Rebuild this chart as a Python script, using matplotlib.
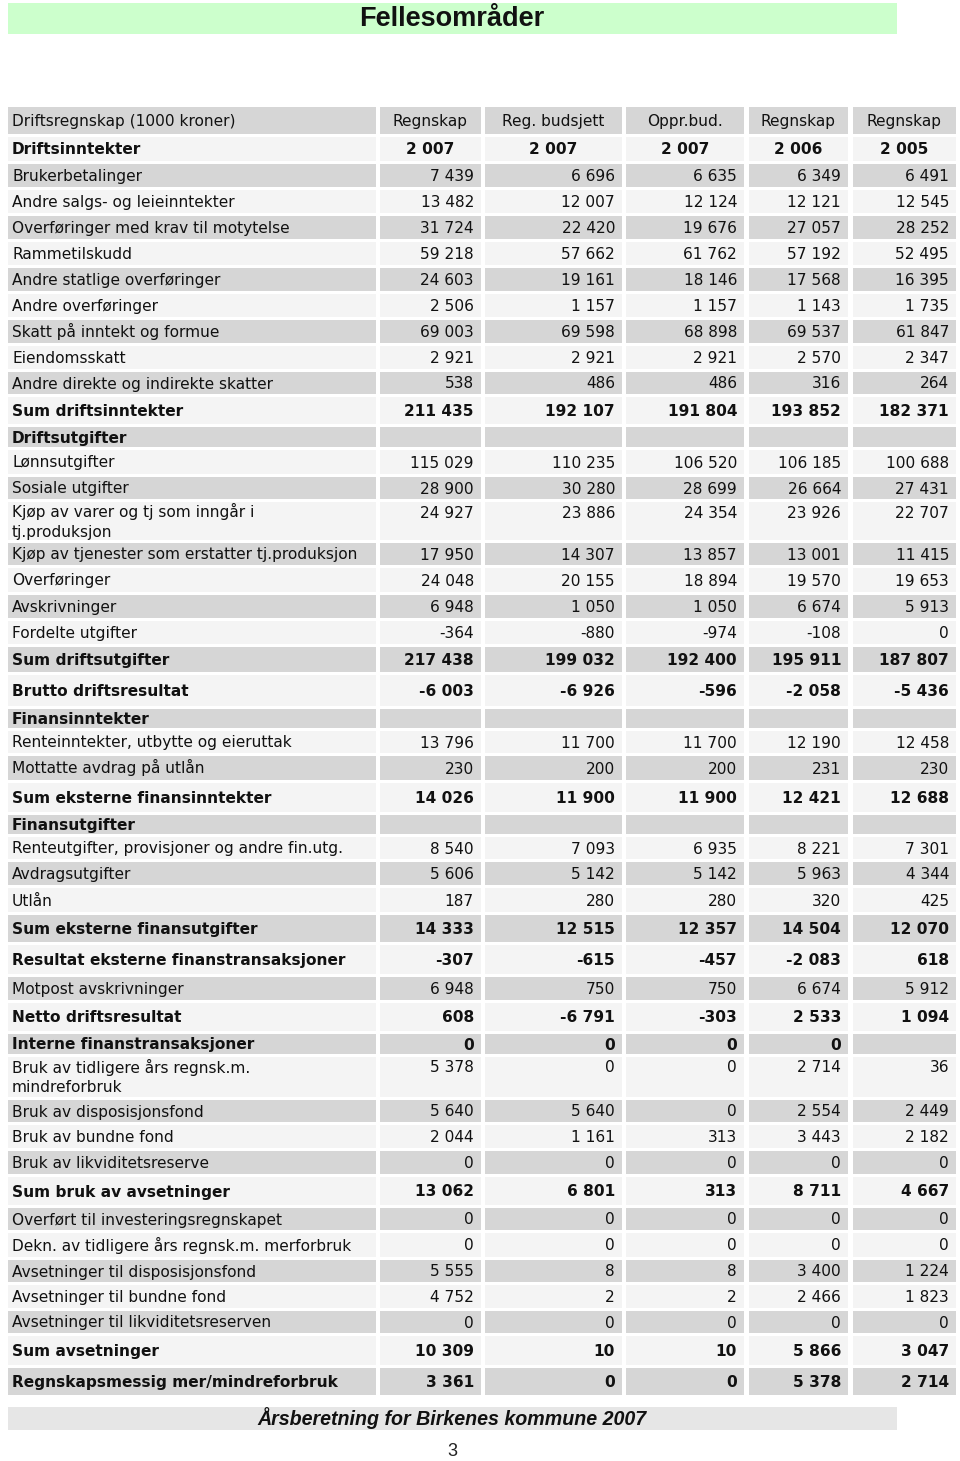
import matplotlib
matplotlib.use("Agg")
import matplotlib.pyplot as plt
from matplotlib.patches import Rectangle

# --- data -----------------------------------------------------------------
title = "Fellesområder"
footer = "Årsberetning for Birkenes kommune 2007"
page_no = "3"

header_label = "Driftsregnskap (1000 kroner)"
col_headers = ["Regnskap", "Reg. budsjett", "Oppr.bud.", "Regnskap", "Regnskap"]
years = [2007, 2007, 2007, 2006, 2005]

labels = [
    "Brukerbetalinger",
    "Andre salgs- og leieinntekter",
    "Overføringer med krav til motytelse",
    "Rammetilskudd",
    "Andre statlige overføringer",
    "Andre overføringer",
    "Skatt på inntekt og formue",
    "Eiendomsskatt",
    "Andre direkte og indirekte skatter",
    "Sum driftsinntekter",
    "Driftsutgifter",
    "Lønnsutgifter",
    "Sosiale utgifter",
    "Kjøp av varer og tj som inngår i\ntj.produksjon",
    "Kjøp av tjenester som erstatter tj.produksjon",
    "Overføringer",
    "Avskrivninger",
    "Fordelte utgifter",
    "Sum driftsutgifter",
    "Brutto driftsresultat",
    "Finansinntekter",
    "Renteinntekter, utbytte og eieruttak",
    "Mottatte avdrag på utlån",
    "Sum eksterne finansinntekter",
    "Finansutgifter",
    "Renteutgifter, provisjoner og andre fin.utg.",
    "Avdragsutgifter",
    "Utlån",
    "Sum eksterne finansutgifter",
    "Resultat eksterne finanstransaksjoner",
    "Motpost avskrivninger",
    "Netto driftsresultat",
    "Interne finanstransaksjoner",
    "Bruk av tidligere års regnsk.m.\nmindreforbruk",
    "Bruk av disposisjonsfond",
    "Bruk av bundne fond",
    "Bruk av likviditetsreserve",
    "Sum bruk av avsetninger",
    "Overført til investeringsregnskapet",
    "Dekn. av tidligere års regnsk.m. merforbruk",
    "Avsetninger til disposisjonsfond",
    "Avsetninger til bundne fond",
    "Avsetninger til likviditetsreserven",
    "Sum avsetninger",
    "Regnskapsmessig mer/mindreforbruk",
]

N = None
regnskap_2007 = [7439, 13482, 31724, 59218, 24603, 2506, 69003, 2921, 538, 211435,
                 N, 115029, 28900, 24927, 17950, 24048, 6948, -364, 217438, -6003,
                 N, 13796, 230, 14026, N, 8540, 5606, 187, 14333, -307,
                 6948, 608, 0, 5378, 5640, 2044, 0, 13062,
                 0, 0, 5555, 4752, 0, 10309, 3361]
reg_budsjett_2007 = [6696, 12007, 22420, 57662, 19161, 1157, 69598, 2921, 486, 192107,
                     N, 110235, 30280, 23886, 14307, 20155, 1050, -880, 199032, -6926,
                     N, 11700, 200, 11900, N, 7093, 5142, 280, 12515, -615,
                     750, -6791, 0, 0, 5640, 1161, 0, 6801,
                     0, 0, 8, 2, 0, 10, 0]
oppr_bud_2007 = [6635, 12124, 19676, 61762, 18146, 1157, 68898, 2921, 486, 191804,
                 N, 106520, 28699, 24354, 13857, 18894, 1050, -974, 192400, -596,
                 N, 11700, 200, 11900, N, 6935, 5142, 280, 12357, -457,
                 750, -303, 0, 0, 0, 313, 0, 313,
                 0, 0, 8, 2, 0, 10, 0]
regnskap_2006 = [6349, 12121, 27057, 57192, 17568, 1143, 69537, 2570, 316, 193852,
                 N, 106185, 26664, 23926, 13001, 19570, 6674, -108, 195911, -2058,
                 N, 12190, 231, 12421, N, 8221, 5963, 320, 14504, -2083,
                 6674, 2533, 0, 2714, 2554, 3443, 0, 8711,
                 0, 0, 3400, 2466, 0, 5866, 5378]
regnskap_2005 = [6491, 12545, 28252, 52495, 16395, 1735, 61847, 2347, 264, 182371,
                 N, 100688, 27431, 22707, 11415, 19653, 5913, 0, 187807, -5436,
                 N, 12458, 230, 12688, N, 7301, 4344, 425, 12070, 618,
                 5912, 1094, N, 36, 2449, 2182, 0, 4667,
                 0, 0, 1224, 1823, 0, 3047, 2714]

bold_rows = {
    "Sum driftsinntekter", "Driftsutgifter", "Sum driftsutgifter", "Brutto driftsresultat",
    "Finansinntekter", "Sum eksterne finansinntekter", "Finansutgifter",
    "Sum eksterne finansutgifter", "Resultat eksterne finanstransaksjoner",
    "Netto driftsresultat", "Interne finanstransaksjoner", "Sum bruk av avsetninger",
    "Sum avsetninger", "Regnskapsmessig mer/mindreforbruk",
}

columns = [regnskap_2007, reg_budsjett_2007, oppr_bud_2007, regnskap_2006, regnskap_2005]

# --- layout ---------------------------------------------------------------
W, H = 960, 1461
col_edges = [(8, 376), (380, 481), (485, 622), (626, 744), (749, 848), (853, 956)]
# pitch of each row in pixels (header, year row, then data rows)
pitches = [30, 27,
           26, 26, 26, 26, 26, 26, 26, 26, 25, 30,
           23, 27, 25, 41, 25, 27, 26, 26, 28, 34,
           22, 25, 27, 32, 22, 25, 26, 27, 30, 32,
           26, 31, 23, 43, 25, 26, 26, 31,
           25, 27, 25, 26, 25, 32, 30]
gap = 3
top0 = 107
grey = "#d6d6d6"
light = "#f4f4f4"
fs = 11.1
pad_l, pad_r = 4, 7
half_cap = 5.5     # baseline offset below cell centre
line_step = 20     # spacing of wrapped label lines

fig = plt.figure(figsize=(W / 100, H / 100), dpi=100)
ax = fig.add_axes([0, 0, 1, 1])
ax.set_xlim(0, W)
ax.set_ylim(H, 0)
ax.axis("off")


def fmt(v):
    if v is None:
        return ""
    return f"{v:,}".replace(",", " ")


# title bar
ax.add_patch(Rectangle((8, 3), 889, 31, color="#ccffcc", lw=0))
ax.text(452, 19, title, ha="center", va="center", fontsize=19.5,
        fontweight="bold", family="Liberation Sans", color="#111111")

# table rows
all_rows = [(header_label, col_headers, False, "center")]
all_rows.append(("Driftsinntekter", [fmt(y) for y in years], True, "center"))
for i, lab in enumerate(labels):
    all_rows.append((lab, [fmt(c[i]) for c in columns], lab in bold_rows, "right"))

top = top0
for r, (lab, vals, bold, align) in enumerate(all_rows):
    h = pitches[r] - gap
    color = grey if r % 2 == 0 else light
    for (x0, x1) in col_edges:
        ax.add_patch(Rectangle((x0, top), x1 - x0, h, color=color, lw=0))
    weight = "bold" if bold else "normal"
    lines = lab.split("\n")
    if len(lines) > 1:
        base = top + 10 + half_cap
    else:
        base = top + h / 2 + half_cap
    for k, line in enumerate(lines):
        ax.text(col_edges[0][0] + pad_l, base + k * line_step, line, ha="left",
                va="baseline", fontsize=fs, fontweight=weight, color="#111111")
    for (x0, x1), v in zip(col_edges[1:], vals):
        if align == "center":
            tx = (x0 + x1) / 2
        else:
            tx = x1 - pad_r
        ax.text(tx, base, v, ha=align, va="baseline", fontsize=fs,
                fontweight=weight, color="#111111")
    top += pitches[r]

# footer
ax.add_patch(Rectangle((8, 1407), 889, 23, color="#e6e6e6", lw=0))
ax.text(452, 1418.5, footer, ha="center", va="center", fontsize=14.1,
        fontweight="bold", fontstyle="italic", family="Liberation Sans",
        color="#111111")
ax.text(452, 1451, page_no, ha="center", va="center", fontsize=13,
        family="Liberation Sans", color="#222222")

fig.savefig("out.png", dpi=100, facecolor="white")
